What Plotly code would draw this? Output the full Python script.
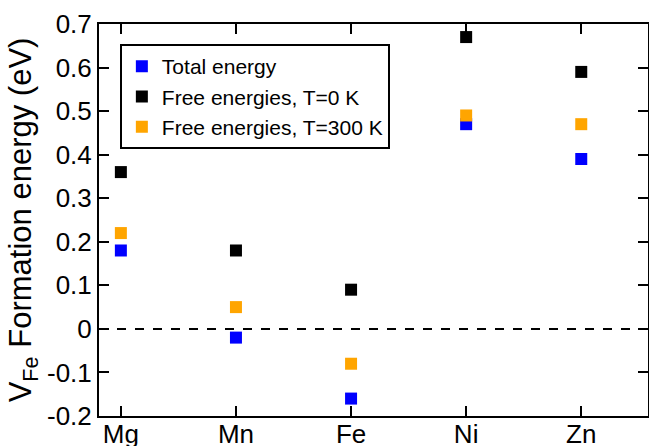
import plotly.graph_objects as go

elements = ["Mg", "Mn", "Fe", "Ni", "Zn"]
x_pos = [1, 2, 3, 4, 5]
total_energy = [0.18, -0.02, -0.16, 0.47, 0.39]
free_T0 = [0.36, 0.18, 0.09, 0.67, 0.59]
free_T300 = [0.22, 0.05, -0.08, 0.49, 0.47]
y_ticks = [-0.2, -0.1, 0, 0.1, 0.2, 0.3, 0.4, 0.5, 0.6, 0.7]
y_ticktext = ["-0.2", "-0.1", "0", "0.1", "0.2", "0.3", "0.4", "0.5", "0.6", "0.7"]

font = "Liberation Sans, Arial, sans-serif"

fig = go.Figure()
for name, vals, col in [
    ("Total energy", total_energy, "#0000ff"),
    ("Free energies, T=0 K", free_T0, "#000000"),
    ("Free energies, T=300 K", free_T300, "#ffa500"),
]:
    fig.add_trace(go.Scatter(x=x_pos, y=vals, mode="markers", name=name,
                             marker=dict(symbol="square", size=12, color=col,
                                         line=dict(width=0))))

fig.add_shape(type="line", xref="paper", x0=0, x1=1, yref="y", y0=0, y1=0,
              line=dict(color="black", width=2, dash="dash"))

fig.update_layout(
    width=649, height=446,
    margin=dict(l=99, r=1, t=24, b=30, autoexpand=False),
    plot_bgcolor="white", paper_bgcolor="white",
    font=dict(family=font, color="black"),
    showlegend=True,
    legend=dict(x=0.038, y=0.949, xanchor="left", yanchor="top",
                bordercolor="black", borderwidth=2, bgcolor="white",
                font=dict(size=21, family=font), itemwidth=30),
    xaxis=dict(range=[0.81, 5.58], tickvals=x_pos, ticktext=elements,
               showline=True, linecolor="black", linewidth=2, mirror="ticks",
               ticks="inside", ticklen=10, tickwidth=2, tickcolor="black",
               showgrid=False, zeroline=False, tickfont=dict(size=26),
               ticklabelstandoff=-6, automargin=False),
    yaxis=dict(range=[-0.2, 0.7], tickvals=y_ticks, ticktext=y_ticktext,
               showline=True, linecolor="black", linewidth=2, mirror="ticks",
               ticks="inside", ticklen=10, tickwidth=2, tickcolor="black",
               showgrid=False, zeroline=False, tickfont=dict(size=26),
               automargin=False,
               title=dict(text="V<sub>Fe</sub> Formation energy (eV)",
                          font=dict(size=31), standoff=6)),
)

fig.write_html("out.html")
